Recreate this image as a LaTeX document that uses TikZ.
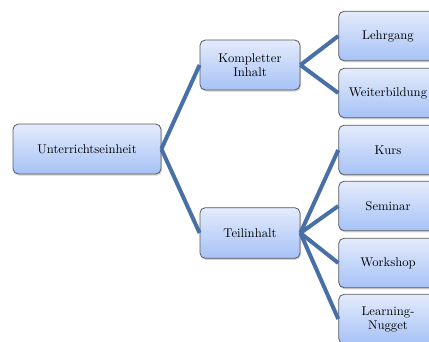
\documentclass[tikz,border=0pt]{standalone}
\usetikzlibrary{shadows}
\definecolor{boxtop}{RGB}{228,235,252}
\definecolor{boxbottom}{RGB}{166,194,246}
\definecolor{boxline}{RGB}{90,90,95}
\definecolor{linkblue}{RGB}{72,112,166}

\begin{document}
\begin{tikzpicture}[x=0.75pt,y=0.75pt,yscale=-1,xscale=1,
	unitbox/.style={draw=boxline,line width=0.6pt,rounded corners=4pt,
		top color=boxtop,bottom color=boxbottom,
		drop shadow={shadow xshift=0.8pt,shadow yshift=-1.2pt,opacity=0.35},
		align=center,font=\fontsize{9.5}{10.5}\selectfont,inner sep=0pt},
	link/.style={draw=linkblue,line width=3pt}]
		%set diagram: 429 x 342
		\useasboundingbox (0,0) rectangle (429,342);
		
		%Shape: Root
		\node [unitbox,minimum width=111pt,minimum height=37.5pt] (einheit) at (87,149) {Unterrichtseinheit};
		%Shape: Middle level
		\node [unitbox,minimum width=75pt,minimum height=37.5pt] (komplett) at (250,65) {Kompletter\\Inhalt};
		\node [unitbox,minimum width=75pt,minimum height=38pt] (teil) at (250,233) {Teilinhalt};
		%Shape: Leaves
		\node [unitbox,minimum width=74pt,minimum height=37pt] (lehrgang) at (388,36) {Lehrgang};
		\node [unitbox,minimum width=74pt,minimum height=37pt] (weiter) at (388,93) {Weiterbildung};
		\node [unitbox,minimum width=74pt,minimum height=37pt] (kurs) at (388,150) {Kurs};
		\node [unitbox,minimum width=74pt,minimum height=37pt] (seminar) at (388,206) {Seminar};
		\node [unitbox,minimum width=74pt,minimum height=37pt] (workshop) at (388,263) {Workshop};
		\node [unitbox,minimum width=74pt,minimum height=37pt] (nugget) at (388,319) {Learning-\\Nugget};
		
		%Straight Lines
		\draw [link] (einheit.east) -- (komplett.west);
		\draw [link] (einheit.east) -- (teil.west);
		\draw [link] (komplett.east) -- (lehrgang.west);
		\draw [link] (komplett.east) -- (weiter.west);
		\draw [link] (teil.east) -- (kurs.west);
		\draw [link] (teil.east) -- (seminar.west);
		\draw [link] (teil.east) -- (workshop.west);
		\draw [link] (teil.east) -- (nugget.west);
		
\end{tikzpicture}
\end{document}
